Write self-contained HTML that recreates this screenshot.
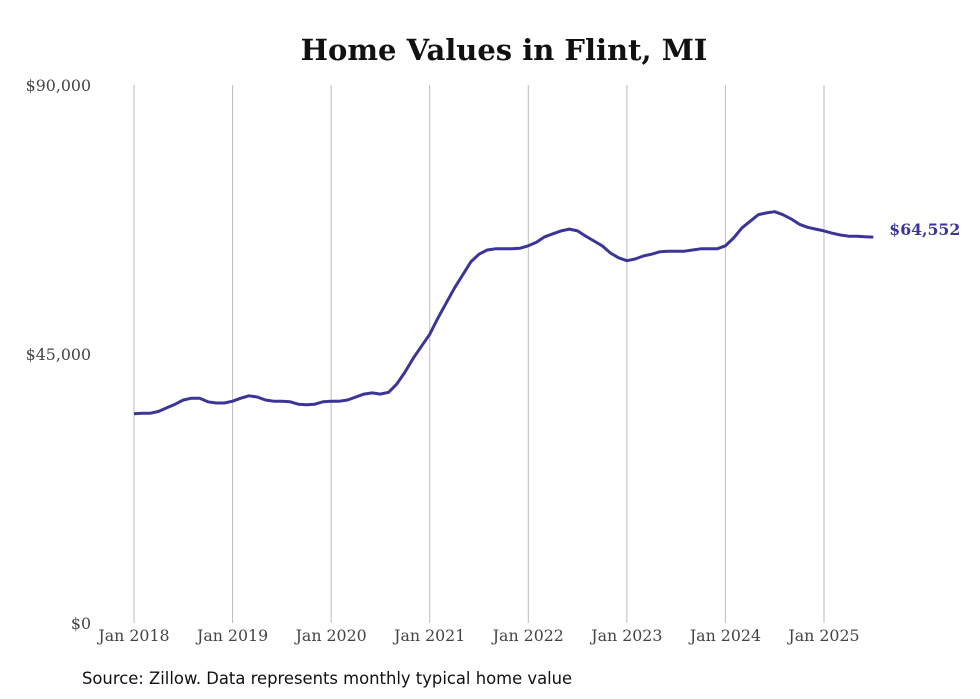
<!DOCTYPE html>
<html><head><meta charset="utf-8"><style>
body{margin:0;background:#fff;width:980px;height:699px;overflow:hidden}
svg{display:block}
</style></head><body>
<svg id="chart" width="980" height="699">
<text x="504" y="60" text-anchor="middle" font-family="'DejaVu Serif',serif" font-weight="bold" font-size="29" fill="#111">Home Values in Flint, MI</text>
<g id="grid"></g><g id="ylab"></g><g id="xlab"></g>
<path id="line" fill="none" stroke="#3b3597" stroke-width="3" stroke-linejoin="round"></path>
<text id="endlab" font-family="'DejaVu Serif',serif" font-weight="bold" font-size="15.7" fill="#3b3597"></text>
<text x="82" y="684" font-family="'DejaVu Sans',sans-serif" font-size="16.4" fill="#111">Source: Zillow. Data represents monthly typical home value</text>
</svg>
<script>
const xTickLabels=["Jan 2018","Jan 2019","Jan 2020","Jan 2021","Jan 2022","Jan 2023","Jan 2024","Jan 2025"];
const yTicks=[0,45000,90000];
const yTickLabels=["$0","$45,000","$90,000"];
const values=[35000,35100,35100,35400,36000,36600,37300,37600,37600,37000,36800,36800,
37100,37600,38000,37800,37300,37100,37100,37000,36600,36500,36600,37000,
37100,37100,37300,37800,38300,38500,38300,38600,40000,42000,44300,46300,
48300,51000,53500,56000,58200,60400,61700,62400,62600,62600,62600,62700,
63100,63700,64600,65100,65600,65900,65600,64700,63900,63100,61900,61100,
60600,60900,61400,61700,62100,62200,62200,62200,62400,62600,62600,62600,
63100,64400,66100,67200,68300,68600,68800,68300,67600,66700,66200,65900,
65600,65200,64900,64700,64700,64600,64552];
const endLabel="$64,552";
const NS="http://www.w3.org/2000/svg";
const x0=134,perMonth=(824-134)/84,yBase=623,yTop=85;
const xs=i=>x0+i*perMonth;
const ys=v=>yBase-(v/90000)*(yBase-yTop);
const grid=document.getElementById('grid'),xl=document.getElementById('xlab'),yl=document.getElementById('ylab');
xTickLabels.forEach((t,k)=>{
 const l=document.createElementNS(NS,'line');
 l.setAttribute('x1',xs(k*12));l.setAttribute('x2',xs(k*12));l.setAttribute('y1',yTop);l.setAttribute('y2',yBase);
 l.setAttribute('stroke','#bbb');l.setAttribute('stroke-width','1');
 
 
 grid.appendChild(l);
 const tx=document.createElementNS(NS,'text');
 tx.setAttribute('x',xs(k*12));tx.setAttribute('y',641);tx.setAttribute('text-anchor','middle');
 tx.setAttribute('font-family',"'DejaVu Serif',serif");tx.setAttribute('font-size','15.8');tx.setAttribute('fill','#444');
 tx.textContent=t;
 
 
 xl.appendChild(tx);
});
yTicks.forEach((v,k)=>{
 const tx=document.createElementNS(NS,'text');
 tx.setAttribute('x',91);tx.setAttribute('y',ys(v)+6);tx.setAttribute('text-anchor','end');
 tx.setAttribute('font-family',"'DejaVu Serif',serif");tx.setAttribute('font-size','15.8');tx.setAttribute('fill','#444');
 tx.textContent=yTickLabels[k];
 
 
 yl.appendChild(tx);
});
document.getElementById('line').setAttribute('d',values.map((v,i)=>(i?'L':'M')+xs(i).toFixed(1)+','+ys(v).toFixed(1)).join(''));
const last=values.length-1,el=document.getElementById('endlab');
el.setAttribute('x',xs(last)+16);el.setAttribute('y',ys(values[last])-2);el.textContent=endLabel;
</script>
</body></html>
